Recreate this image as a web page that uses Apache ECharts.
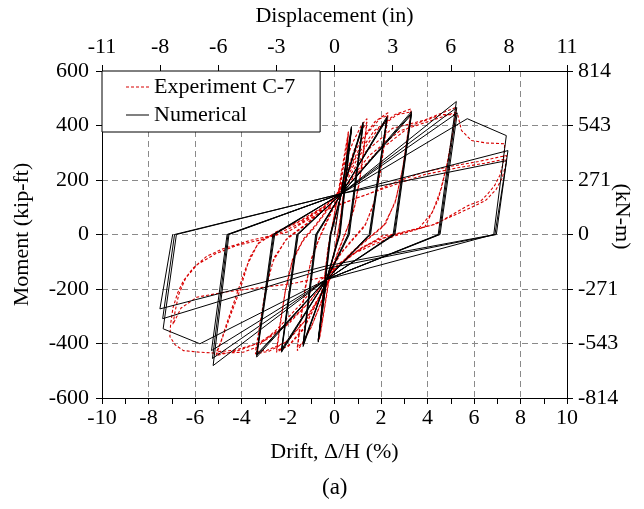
<!DOCTYPE html>
<html><head><meta charset="utf-8">
<script src="https://cdn.jsdelivr.net/npm/echarts@6/dist/echarts.min.js"></script>
<style>html,body{margin:0;padding:0;background:#fff;overflow:hidden}#c{width:644px;height:509px}</style>
</head><body><div id="c"></div>
<script>
// ---- Data (drift %, moment kip-ft) ----
const driftTicks = [-10,-8,-6,-4,-2,0,2,4,6,8,10];
const momentTicks = [-600,-400,-200,0,200,400,600];
const dispTicks = [-11,-8,-6,-3,0,3,6,8,11];
const kNmTicks = [-814,-543,-271,0,271,543,814];

// Numerical model (piece-wise linear hysteresis)
const numAmp1 = [[0,0],[0.73,396],[0.20,0],[-0.34,-165],[-0.70,-395],[-0.15,0],[0.30,150],
  [0.73,390],[0.22,0],[-0.34,-165],[-0.70,-390],[-0.17,0],[0.30,150],
  [0.73,386],[0.24,0],[-0.34,-165],[-0.70,-386],[-0.19,0],[0.30,150]];
const numAmp2 = [[1.23,412],[0.58,0],[-0.34,-165],[-1.35,-411],[-0.75,0],[0.30,150],
  [1.23,405],[0.61,0],[-0.34,-165],[-1.35,-405],[-0.78,0],[0.30,150],
  [1.23,400],[0.64,0],[-0.34,-165],[-1.35,-400],[-0.81,0],[0.30,150]];
const numAmp3 = [[2.26,433],[1.49,0],[-0.34,-165],[-2.28,-432],[-1.56,0],[0.30,150],
  [2.26,428],[1.52,0],[-0.34,-165],[-2.28,-427],[-1.59,0],[0.30,150],
  [2.26,424],[1.55,0],[-0.34,-165],[-2.28,-422],[-1.62,0],[0.30,150]];
const numAmp4 = [[3.31,451],[2.52,0],[-0.34,-165],[-3.35,-450],[-2.57,0],[0.30,150],
  [3.31,445],[2.56,0],[-0.34,-165],[-3.35,-444],[-2.61,0],[0.30,150],
  [3.31,440],[2.60,0],[-0.34,-165],[-3.35,-440],[-2.65,0],[0.30,150]];
const numAmp5 = [[5.24,488],[4.46,0],[-0.34,-165],[-5.22,-481],[-4.54,0],[0.30,150],
  [5.26,466],[4.50,0],[-0.34,-165],[-5.25,-455],[-4.58,0],[0.30,150],
  [5.28,446],[4.54,0],[-0.34,-165],[-5.29,-426],[-4.62,0],[0.30,150]];
const numAmp6 = [[5.71,425],[7.39,363],[6.85,0],[-0.34,-165],[-5.79,-401],[-7.37,-346],[-6.80,0],
  [0.30,150],[7.46,308],[6.96,0],[-0.34,-125],[-7.39,-309],[-6.88,0],
  [0.30,150],[7.40,271],[6.90,0],[-0.34,-115],[-7.51,-273],[-6.96,0]];

// Experiment C-7
const expAmp1 = [[0,0],[0.3,200],[0.6,380],[0.5,270],[0.38,150],[0.25,50],[0.05,-40],[-0.15,-120],[-0.35,-230],
  [-0.52,-320],[-0.65,-385],[-0.55,-270],[-0.42,-150],[-0.28,-50],[-0.08,40],[0.12,130],[0.3,230],[0.48,320],
  [0.6,372],[0.5,260],[0.38,140],[0.22,40],[0.02,-50],[-0.18,-130],[-0.38,-240],[-0.55,-330],[-0.65,-378],
  [-0.55,-260],[-0.4,-140],[-0.25,-40],[-0.05,50],[0.15,140],[0.35,240]];
const expAmp2 = [[0.8,340],[1.15,400],[1.4,425],[1.28,330],[1.1,210],[0.88,110],[0.58,30],[0.25,-40],[-0.1,-120],
  [-0.5,-230],[-0.95,-330],[-1.35,-395],[-1.6,-426],[-1.47,-330],[-1.28,-210],[-1.02,-100],[-0.68,-20],[-0.3,50],
  [0.08,120],[0.45,210],[0.85,310],[1.18,385],[1.4,412],[1.27,315],[1.08,195],[0.85,95],[0.52,15],[0.2,-55],
  [-0.15,-135],[-0.55,-245],[-1.0,-340],[-1.38,-398],[-1.6,-414],[-1.46,-315],[-1.26,-195],[-0.98,-85],
  [-0.62,-5],[-0.25,65],[0.12,140]];
const expAmp3 = [[0.6,250],[1.1,340],[1.75,415],[2.3,447],[2.17,352],[1.98,232],[1.72,122],[1.35,40],[0.85,-10],
  [0.35,-60],[-0.15,-130],[-0.7,-240],[-1.3,-340],[-1.95,-405],[-2.49,-432],[-2.33,-330],[-2.12,-210],[-1.82,-100],
  [-1.37,-25],[-0.82,30],[-0.3,90],[0.2,160],[0.8,270],[1.4,370],[1.95,425],[2.3,437],[2.16,342],[1.96,222],
  [1.69,112],[1.3,30],[0.78,-20],[0.27,-70],[-0.25,-140],[-0.75,-250],[-1.35,-350],[-1.98,-410],[-2.49,-425],
  [-2.33,-320],[-2.1,-200],[-1.8,-90],[-1.32,-15],[-0.77,40],[-0.25,100],[0.25,170]];
const expAmp4 = [[0.9,280],[1.7,380],[2.6,440],[3.3,461],[3.15,370],[2.95,250],[2.65,130],[2.2,40],[1.5,-10],
  [0.8,-60],[0.1,-120],[-0.5,-210],[-1.2,-310],[-2.0,-390],[-2.8,-428],[-3.4,-438],[-3.22,-340],[-2.98,-210],
  [-2.65,-100],[-2.1,-20],[-1.3,30],[-0.5,90],[0.2,160],[1.0,280],[1.9,390],[2.7,440],[3.3,450],[3.13,355],
  [2.92,235],[2.6,115],[2.1,30],[1.4,-20],[0.7,-70],[0,-130],[-0.6,-220],[-1.3,-320],[-2.1,-395],[-2.9,-425],
  [-3.4,-430],[-3.2,-325],[-2.95,-195],[-2.6,-85],[-2.0,-10],[-1.2,40],[-0.4,100],[0.3,170]];
const expAmp5 = [[1.3,300],[2.5,390],[3.88,420],[5.24,467],[5.1,380],[4.9,280],[4.6,170],[4.2,80],[3.6,20],
  [2.6,-5],[1.6,-40],[0.8,-71],[-0.2,-144],[-1.0,-240],[-2.0,-330],[-3.0,-390],[-4.1,-425],[-5.1,-444],
  [-4.95,-410],[-4.65,-330],[-4.25,-230],[-3.8,-120],[-3.3,-35],[-2.5,10],[-1.5,50],[-0.5,100],[0.3,160],
  [1.5,290],[2.8,380],[3.88,410],[5.24,449],[5.03,345],[4.81,247],[4.45,125],[3.88,27],[3.0,5],[2.09,-4],
  [0.8,-71],[-0.2,-144],[-1.1,-250],[-2.2,-340],[-3.3,-400],[-4.3,-425],[-5.07,-430],[-4.86,-389],[-4.5,-303],
  [-4.07,-205],[-3.64,-83],[-3.2,-22],[-2.3,15],[-1.2,60],[-0.3,110],[0.4,170]];
const expAmp6 = [[1.8,300],[3.3,400],[4.6,440],[5.3,440],[5.46,382],[5.89,345],[6.5,336],[7.32,333],[7.3,300],
  [7.25,259],[7.1,215],[6.89,180],[6.6,150],[6.32,125],[5.74,106],[5.0,70],[4.39,39],[3.88,27],[2.5,0],
  [1.2,-47],[-0.63,-169],[-1.5,-260],[-2.5,-350],[-3.35,-414],[-3.93,-432],[-5.0,-436],[-5.79,-432],
  [-6.5,-426],[-6.85,-405],[-7.08,-375],[-7.05,-330],[-6.95,-270],[-6.75,-215],[-6.5,-170],[-6.1,-125],
  [-5.5,-80],[-4.79,-52],[-3.64,-22],[-2.5,0],[-1.5,40],[-0.63,88],[0.5,120],[1.5,150],[2.7,195],[3.88,230],
  [5.0,250],[6.2,268],[7.4,290],[7.35,250],[7.2,205],[6.95,165],[6.5,125],[5.9,100],[5.0,65],[4.2,35],
  [3.0,10],[1.8,-20],[1.2,-47],[0.3,-100],[-0.5,-157],[-1.8,-180],[-3.2,-195],[-4.6,-210],[-5.92,-230],
  [-6.6,-270],[-6.95,-330],[-6.85,-280],[-6.7,-220],[-6.4,-160],[-5.9,-110],[-5.1,-70],[-4.2,-40],
  [-3.2,-20],[-2.0,10],[-0.63,80],[1.0,135],[2.5,180],[3.88,220],[5.3,245],[6.5,262],[7.42,278]];

const numerical = [].concat(numAmp1, numAmp2, numAmp3, numAmp4, numAmp5, numAmp6);
const experiment = [].concat(expAmp1, expAmp2, expAmp3, expAmp4, expAmp5, expAmp6);

// ---- Chart ----
const FONT = 'Liberation Serif';
const txt = {fontFamily: FONT, fontSize: 22, color: '#000'};
const gridLine = {show: true, lineStyle: {color: '#8a8a8a', type: [6,4], width: 1}};
const axisLine = {show: true, onZero: false, lineStyle: {color: '#000', width: 1}};
const tick = {show: true, inside: false, length: 6, lineStyle: {color: '#000'}};
const RED = '#d80000';

const chart = echarts.init(document.getElementById('c'), null, {renderer: 'canvas'});
chart.setOption({
  animation: false,
  backgroundColor: '#fff',
  graphic: [{type: 'text', left: 322, top: 476, style: {text: '(a)', fontFamily: FONT, fontSize: 23, fill: '#000'}}],
  grid: {left: 102, right: 77, top: 71, bottom: 111, containLabel: false, outerBoundsMode: 'none'},
  legend: {
    data: [
      {name: 'Experiment C-7', icon: 'path://M0,0h3v1h-3zM5,0h3v1h-3zM10,0h3v1h-3zM15,0h3v1h-3zM20,0h3v1h-3z'},
      {name: 'Numerical', icon: 'path://M0,0h23v1h-23z'}
    ],
    orient: 'vertical', left: 102, top: 71,
    backgroundColor: '#fff', borderColor: '#000', borderWidth: 1,
    padding: [5, 25, 6, 24], itemGap: 6, itemWidth: 23, itemHeight: 1.2,
    textStyle: txt
  },
  xAxis: [
    {type: 'value', position: 'bottom', min: driftTicks[0], max: driftTicks[driftTicks.length-1], interval: 2,
     name: 'Drift, Δ/H (%)', nameLocation: 'middle', nameGap: 43, nameTextStyle: txt,
     axisLine: axisLine, axisTick: tick, minorTick: {show: true, splitNumber: 2, length: 6, lineStyle: {color: '#000'}},
     axisLabel: Object.assign({margin: 9}, txt), splitLine: gridLine},
    {type: 'value', position: 'top', min: dispTicks[0], max: dispTicks[dispTicks.length-1], interval: 2.75,
     name: 'Displacement (in)', nameLocation: 'middle', nameGap: 44, nameTextStyle: txt,
     axisLine: axisLine, axisTick: tick, splitLine: {show: false},
     axisLabel: Object.assign({margin: 13, formatter: v => (v < 0 ? '-' : '') + Math.round(Math.abs(v))}, txt)}
  ],
  yAxis: [
    {type: 'value', position: 'left', min: momentTicks[0], max: momentTicks[momentTicks.length-1], interval: 200,
     name: 'Moment (kip-ft)', nameLocation: 'middle', nameGap: 69, nameRotate: 90, nameTextStyle: txt,
     axisLine: axisLine, axisTick: tick, axisLabel: Object.assign({margin: 13}, txt), splitLine: gridLine},
    {type: 'value', position: 'right', min: kNmTicks[0], max: kNmTicks[kNmTicks.length-1], interval: 814/3,
     name: '(kN-m)', nameLocation: 'middle', nameGap: 44, nameRotate: -90, nameMoveOverlap: false,
     nameTextStyle: Object.assign({padding: [0, 36, 0, 0]}, txt),
     axisLine: axisLine, axisTick: tick, splitLine: {show: false},
     axisLabel: Object.assign({margin: 11, formatter: v => String(Math.round(v) === 0 ? 0 : Math.round(v))}, txt)}
  ],
  series: [
    {name: 'Experiment C-7', type: 'line', xAxisIndex: 0, yAxisIndex: 0, data: experiment,
     symbol: 'none', showSymbol: false, smooth: false, clip: true,
     lineStyle: {color: RED, width: 1.1, type: [3, 2]}, itemStyle: {color: RED}, z: 2},
    {name: 'Numerical', type: 'line', xAxisIndex: 0, yAxisIndex: 0, data: numerical,
     symbol: 'none', showSymbol: false, smooth: false, clip: true,
     lineStyle: {color: '#000', width: 1}, itemStyle: {color: '#000'}, z: 3}
  ]
});
</script></body></html>
